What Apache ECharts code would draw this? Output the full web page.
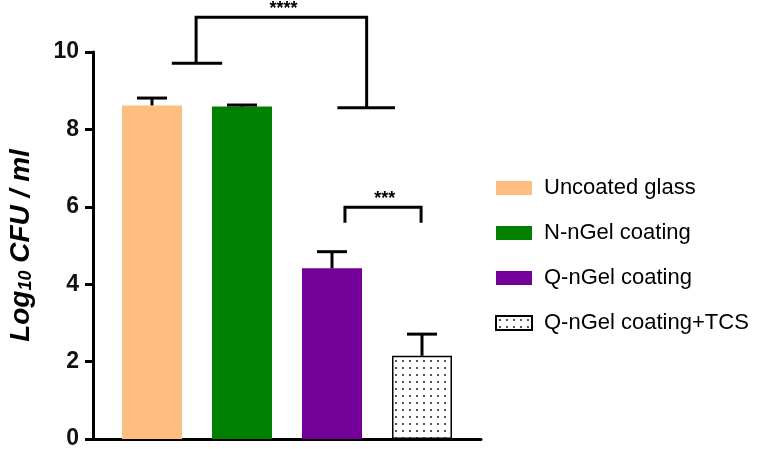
<!DOCTYPE html>
<html>
<head>
<meta charset="utf-8">
<script src="https://cdn.jsdelivr.net/npm/echarts@6/dist/echarts.min.js"></script>
<style>html,body{margin:0;padding:0;background:#fff;}#c{width:771px;height:449px;}</style>
</head>
<body>
<div id="c"></div>
<script>
// ---- data ----
const categories = ['Uncoated glass', 'N-nGel coating', 'Q-nGel coating', 'Q-nGel coating+TCS'];
const means = [8.62, 8.59, 4.41, 2.15];
const errors = [0.19, 0.04, 0.43, 0.56];
const yTicks = [0, 2, 4, 6, 8, 10];
// significance brackets (data units: x = category index, y = log10 CFU/ml)
const bracketBig = [[0.22, 9.71], [0.78, 9.71], null, [0.49, 9.71], [0.49, 10.9], [2.385, 10.9], [2.385, 8.56], null, [2.06, 8.56], [2.7, 8.56]];
const bracketSmall = [[2.144, 5.59], [2.144, 5.99], [2.99, 5.99], [2.99, 5.59]];
const sigLabels = [['****', 1.46, 11.1], ['***', 2.585, 6.19]];

const colors = ['#FEBE80', '#008000', '#730098', null];

// dotted pattern
const pc = document.createElement('canvas');
pc.width = 7; pc.height = 7;
const pctx = pc.getContext('2d');
pctx.fillStyle = '#fff'; pctx.fillRect(0, 0, 7, 7);
pctx.fillStyle = '#555'; pctx.fillRect(3, 3, 2, 2);
const dotPattern = { image: pc, repeat: 'repeat' };

const chart = echarts.init(document.getElementById('c'), null, { renderer: 'canvas' });

const barSeries = categories.map((name, i) => ({
  name: name,
  type: 'bar',
  barWidth: 60,
  barGap: '-100%',
  data: [[i, means[i]]],
  itemStyle: i === 3
    ? { color: dotPattern, borderColor: '#000', borderWidth: 1.5 }
    : { color: colors[i] },
  z: 2
}));

const errSeries = {
  type: 'custom',
  data: means.map((m, i) => [i, m, errors[i]]),
  z: 5,
  silent: true,
  renderItem: (params, api) => {
    const x = api.value(0), m = api.value(1), e = api.value(2);
    const p0 = api.coord([x, m]);
    const p1 = api.coord([x, m + e]);
    const half = 15;
    return {
      type: 'group', children: [
        { type: 'line', shape: { x1: p0[0], y1: p0[1], x2: p1[0], y2: p1[1] }, style: { stroke: '#000', lineWidth: 3 } },
        { type: 'line', shape: { x1: p1[0] - half, y1: p1[1], x2: p1[0] + half, y2: p1[1] }, style: { stroke: '#000', lineWidth: 3 } }
      ]
    };
  }
};

const brackets = [bracketBig, bracketSmall];
const bracketSeries = {
  type: 'custom',
  data: brackets.map((b, i) => [i]),
  z: 5,
  silent: true,
  clip: false,
  renderItem: (params, api) => {
    const pts = brackets[params.dataIndex];
    const children = [];
    let cur = [];
    const flush = () => {
      if (cur.length > 1) children.push({ type: 'polyline', shape: { points: cur }, style: { stroke: '#000', lineWidth: 3, fill: null, lineJoin: 'miter' } });
      cur = [];
    };
    pts.forEach(p => { if (p === null) flush(); else cur.push(api.coord(p)); });
    flush();
    return { type: 'group', children: children };
  }
};

const labelSeries = {
  type: 'custom',
  data: sigLabels.map(s => [s[1], s[2]]),
  z: 6,
  silent: true,
  clip: false,
  renderItem: (params, api) => {
    const p = api.coord([api.value(0), api.value(1)]);
    return {
      type: 'text',
      style: {
        text: sigLabels[params.dataIndex][0],
        x: p[0], y: p[1],
        align: 'center', verticalAlign: 'middle',
        font: 'bold 18px "Liberation Sans", Arial, sans-serif',
        fill: '#000'
      }
    };
  }
};

chart.setOption({
  animation: false,
  backgroundColor: '#fff',
  grid: { left: 93, top: 52, width: 388, height: 387, containLabel: false, outerBoundsMode: 'none' },
  xAxis: {
    type: 'value',
    min: -0.6556, max: 3.6556,
    axisLine: { show: true, onZero: false, lineStyle: { color: '#000', width: 3 } },
    axisTick: { show: false },
    axisLabel: { show: false },
    splitLine: { show: false }
  },
  yAxis: {
    type: 'value',
    min: 0, max: 10, interval: 2,
    name: '{a|Log}{b|10}{a| CFU / ml}',
    nameLocation: 'middle',
    nameRotate: 90,
    nameGap: 58,
    nameTextStyle: {
      rich: {
        a: { fontFamily: '"Liberation Sans", Arial, sans-serif', fontWeight: 'bold', fontStyle: 'italic', fontSize: 28, color: '#000', lineHeight: 32, verticalAlign: 'bottom' },
        b: { fontFamily: '"Liberation Sans", Arial, sans-serif', fontWeight: 'bold', fontStyle: 'italic', fontSize: 18, color: '#000', lineHeight: 24, verticalAlign: 'bottom' }
      }
    },
    axisLine: { show: true, onZero: false, lineStyle: { color: '#000', width: 3 } },
    axisTick: { show: true, length: 8, lineStyle: { color: '#000', width: 3 } },
    axisLabel: {
      margin: 14,
      fontFamily: '"Liberation Sans", Arial, sans-serif', fontWeight: 'bold', fontSize: 23, color: '#111',
      formatter: v => (yTicks.indexOf(v) >= 0 ? String(v) : '')
    },
    splitLine: { show: false }
  },
  legend: {
    orient: 'vertical',
    left: 490, top: 172,
    icon: 'rect',
    itemWidth: 36, itemHeight: 14,
    itemGap: 23,
    data: categories,
    textStyle: { fontFamily: '"Liberation Sans", Arial, sans-serif', fontSize: 22, color: '#000', padding: [0, 0, 0, 7], lineHeight: 22 }
  },
  series: [...barSeries, errSeries, bracketSeries, labelSeries]
});
</script>
</body>
</html>
